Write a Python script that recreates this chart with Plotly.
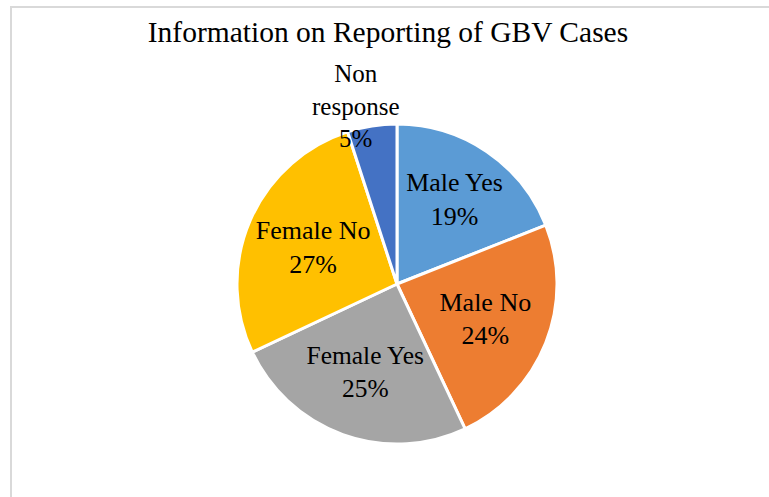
import plotly.graph_objects as go

categories = ["Male Yes", "Male No", "Female Yes", "Female No", "Non response"]
display_labels = ["Male Yes", "Male No", "Female Yes", "Female No", "Non<br>response"]
values = [19, 24, 25, 27, 5]
colors = ["#5B9BD5", "#ED7D31", "#A5A5A5", "#FFC000", "#4472C4"]

FONT = "Liberation Serif, Times New Roman, serif"
W, H = 769, 497
cx, cy, r = 397, 284, 160

# the small slice gets its label placed above it, as in the reference
templates = ["%{text}<br>%{percent:.0%}"] * 4 + [""]
total = sum(values)
small_label = f"{display_labels[4]}<br>{round(values[4] / total * 100)}%"

fig = go.Figure(go.Pie(
    labels=categories,
    values=values,
    text=display_labels,
    texttemplate=templates,
    textposition="inside",
    insidetextorientation="horizontal",
    sort=False,
    direction="clockwise",
    rotation=0,
    marker=dict(colors=colors, line=dict(color="white", width=3)),
    textfont=dict(family=FONT, size=26, color="black"),
    showlegend=False,
    hoverinfo="label+percent",
    domain=dict(x=[(cx - r) / W, (cx + r) / W], y=[(H - cy - r) / H, (H - cy + r) / H]),
))

fig.update_layout(
    width=W, height=H,
    margin=dict(l=0, r=0, t=0, b=0),
    paper_bgcolor="white",
    title=dict(text="Information on Reporting of GBV Cases", x=388 / W, xanchor="center",
               y=1 - 32 / H, yanchor="middle",
               font=dict(family=FONT, size=29.5, color="black")),
    annotations=[dict(text=small_label, xref="paper", yref="paper", x=355 / W, y=1 - 106 / H,
                      xanchor="center", yanchor="middle", showarrow=False,
                      font=dict(family=FONT, size=25, color="black"))],
    shapes=[dict(type="rect", xref="paper", yref="paper", x0=11 / W, x1=1.05, y0=-0.05, y1=1 - 7 / H,
                 line=dict(color="#D9D9D9", width=2), fillcolor="rgba(0,0,0,0)", layer="below")],
)

fig.write_html("out.html", config={"displayModeBar": False},
               post_script="document.body.style.margin='0';document.body.style.overflow='hidden';")
